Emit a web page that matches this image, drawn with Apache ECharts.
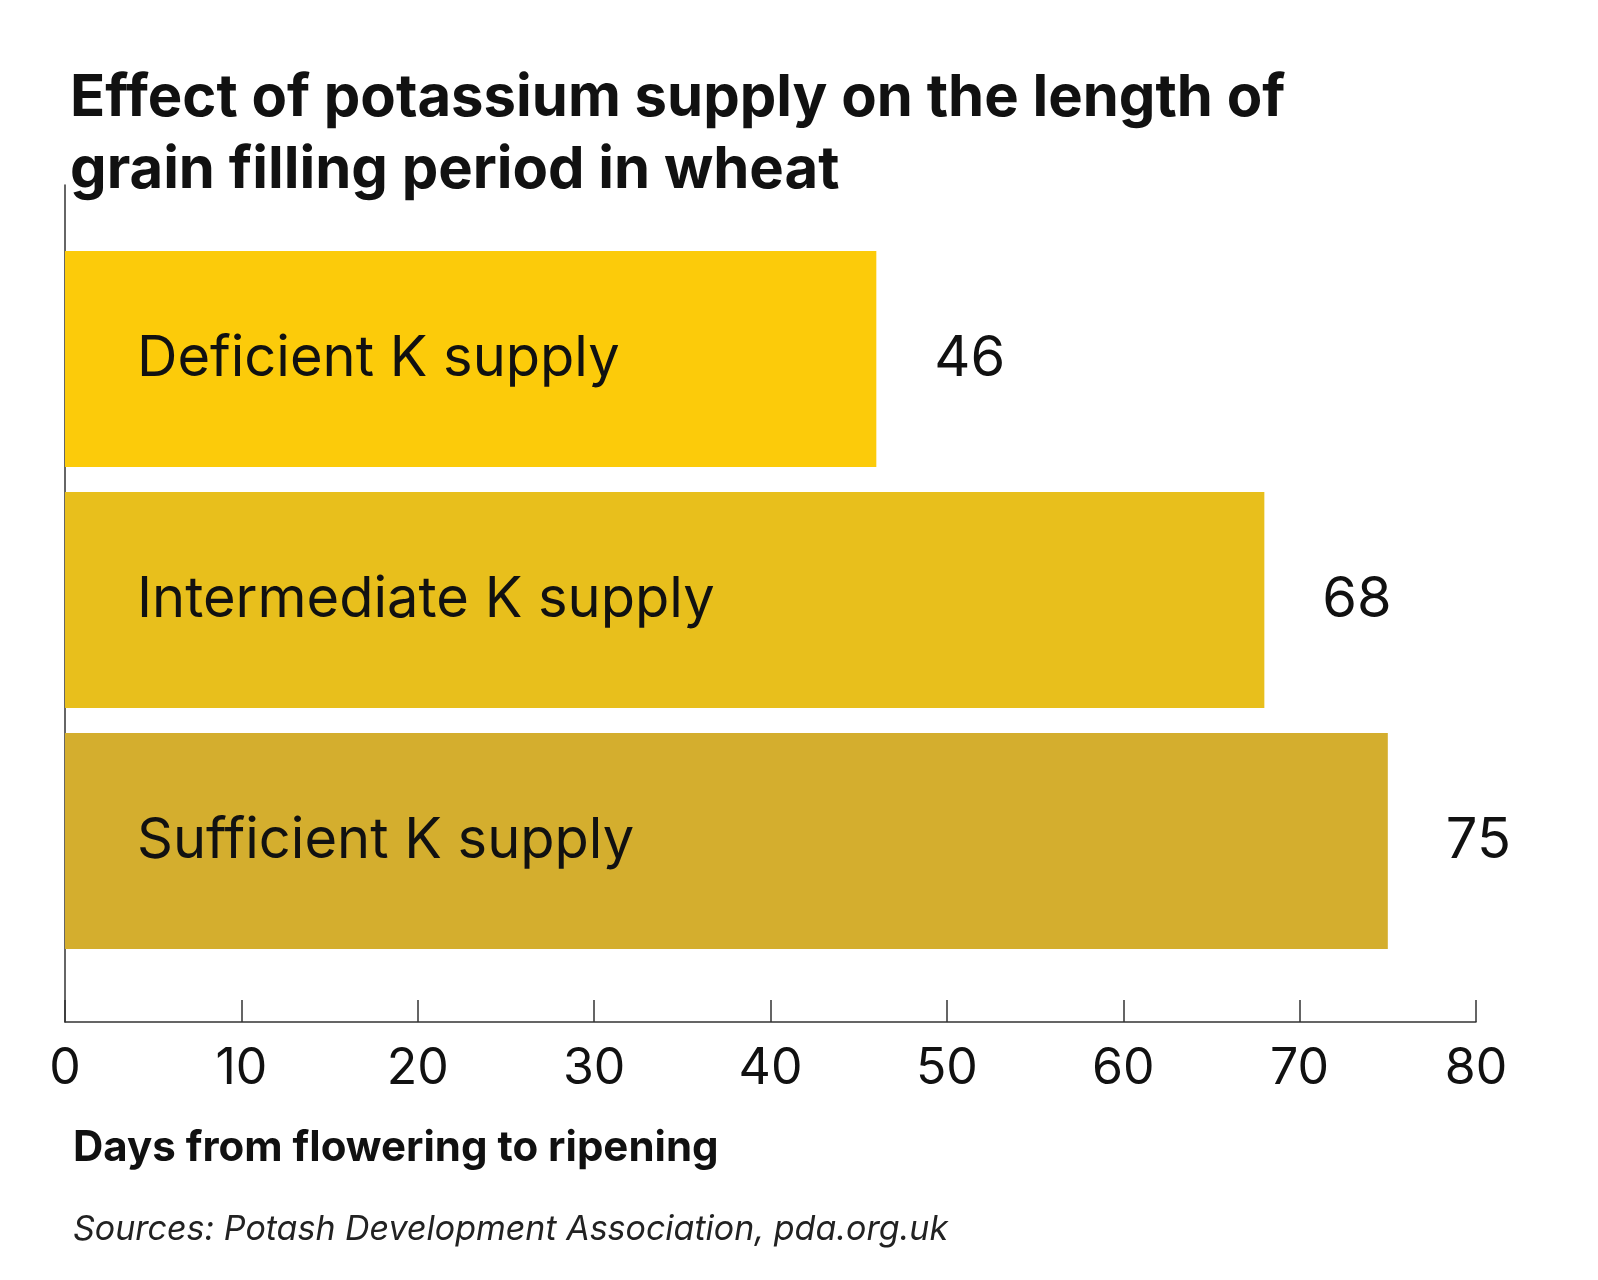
<!DOCTYPE html><html><head><meta charset="utf-8">
<script src="https://cdn.jsdelivr.net/npm/echarts@6/dist/echarts.min.js"></script>
<style>body{margin:0;background:#fff}#c{width:1598px;height:1280px}</style></head><body><div id="c"></div>
<script>
const categories=["Sufficient K supply","Intermediate K supply","Deficient K supply"];
const values=[75,68,46];
const colors=["#D4AE2E","#E8BF1C","#FCCB0A"];
const xTicks=[0,10,20,30,40,50,60,70,80];
const F="Inter, 'Noto Sans', sans-serif";
const c=echarts.init(document.getElementById('c'));
c.setOption({
 animation:false,
 title:[{text:"Effect of potassium supply on the length of\ngrain filling period in wheat",left:65,top:58,textStyle:{fontFamily:F,fontSize:58,fontWeight:'bold',color:'#111',lineHeight:72}},
  {text:"Days from flowering to ripening",left:68,top:1122,textStyle:{fontFamily:F,fontSize:42,fontWeight:'bold',color:'#111'}},
  {text:"Sources: Potash Development Association, pda.org.uk",left:68,top:1208,textStyle:{fontFamily:F,fontSize:34,fontStyle:'italic',fontWeight:'normal',color:'#222'}}],
 grid:[{left:65,right:122,top:238.5,bottom:318.5},{left:65,right:122,top:185,bottom:258}],
 xAxis:[{gridIndex:0,type:'value',min:0,max:80,show:false},
  {gridIndex:1,type:'value',min:0,max:80,interval:10,splitLine:{show:false},
  axisLine:{show:true,lineStyle:{color:'#333',width:1.5}},
  axisTick:{show:true,inside:true,length:22,lineStyle:{color:'#333',width:1.5}},
  axisLabel:{fontFamily:F,fontSize:50,color:'#111',margin:22,formatter:v=>xTicks.includes(v)?String(v):''}}],
 yAxis:[{gridIndex:0,type:'category',data:categories,show:false},
  {gridIndex:1,type:'value',min:0,max:1,splitLine:{show:false},axisLabel:{show:false},axisTick:{show:false},
  axisLine:{show:true,lineStyle:{color:'#333',width:1.5}}}],
 series:[{type:'bar',xAxisIndex:0,yAxisIndex:0,barWidth:216,
   data:values.map((v,i)=>({value:v,itemStyle:{color:colors[i]}})),
   label:{show:true,position:'insideLeft',distance:72,fontFamily:F,fontSize:56,color:'#111',formatter:p=>categories[p.dataIndex]}},
  {type:'bar',xAxisIndex:0,yAxisIndex:0,barWidth:216,barGap:'-100%',data:values,itemStyle:{color:'transparent'},
   label:{show:true,position:'right',distance:58,fontFamily:F,fontSize:56,color:'#111'}}]
});
</script></body></html>
